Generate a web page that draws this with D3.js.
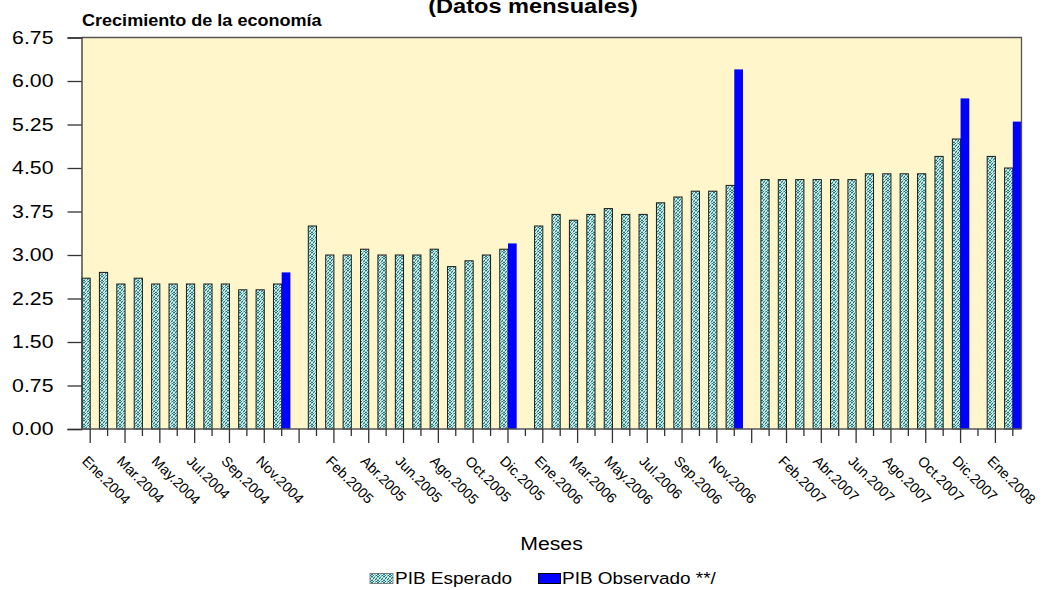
<!DOCTYPE html>
<html>
<head>
<meta charset="utf-8">
<script src="https://cdn.jsdelivr.net/npm/d3@7/dist/d3.min.js"></script>
<style>
  html, body { margin: 0; padding: 0; background: #fff; }
  svg { display: block; font-family: "Liberation Sans", Arial, sans-serif; }
</style>
</head>
<body>
<svg id="chart" width="1045" height="590"></svg>
<script>
// Monthly categories; blank entries are spacer slots between years
const categories = [
  "Ene.2004","Feb.2004","Mar.2004","Abr.2004","May.2004","Jun.2004","Jul.2004","Ago.2004","Sep.2004","Oct.2004","Nov.2004","Dic.2004",
  "",
  "Ene.2005","Feb.2005","Mar.2005","Abr.2005","May.2005","Jun.2005","Jul.2005","Ago.2005","Sep.2005","Oct.2005","Nov.2005","Dic.2005",
  "",
  "Ene.2006","Feb.2006","Mar.2006","Abr.2006","May.2006","Jun.2006","Jul.2006","Ago.2006","Sep.2006","Oct.2006","Nov.2006","Dic.2006",
  "",
  "Ene.2007","Feb.2007","Mar.2007","Abr.2007","May.2007","Jun.2007","Jul.2007","Ago.2007","Sep.2007","Oct.2007","Nov.2007","Dic.2007",
  "",
  "Ene.2008","Feb.2008"
];

// PIB Esperado (expected growth, %)
const esperado = [
  2.6, 2.7, 2.5, 2.6, 2.5, 2.5, 2.5, 2.5, 2.5, 2.4, 2.4, 2.5,
  null,
  3.5, 3.0, 3.0, 3.1, 3.0, 3.0, 3.0, 3.1, 2.8, 2.9, 3.0, 3.1,
  null,
  3.5, 3.7, 3.6, 3.7, 3.8, 3.7, 3.7, 3.9, 4.0, 4.1, 4.1, 4.2,
  null,
  4.3, 4.3, 4.3, 4.3, 4.3, 4.3, 4.4, 4.4, 4.4, 4.4, 4.7, 5.0,
  null,
  4.7, 4.5
];

// PIB Observado (observed growth, %), only where published
const observado = [
  null, null, null, null, null, null, null, null, null, null, null, 2.7,
  null,
  null, null, null, null, null, null, null, null, null, null, null, 3.2,
  null,
  null, null, null, null, null, null, null, null, null, null, null, 6.2,
  null,
  null, null, null, null, null, null, null, null, null, null, null, 5.7,
  null,
  null, 5.3
];

const yTicks = [0, 0.75, 1.5, 2.25, 3.0, 3.75, 4.5, 5.25, 6.0, 6.75];

const seriesNames = ["PIB Esperado", "PIB Observado **/"];

// ---- layout ----
const SX = 1.15;               // horizontal text stretch
const plot = { left: 81.5, right: 1021.5, top: 37.5, bottom: 429 };
const FONT = '"Liberation Sans", Arial, sans-serif';
const BLUE = "#0000ff";

const svg = d3.select("#chart");

// Mottled teal fill used by the expected-growth bars
const defs = svg.append("defs");
const tile = [
  "TWBLWT",
  "BLTWBL",
  "WTBBTW",
  "LBWTLB",
  "TWLBWT",
  "BTWLTB"
];
const tileColors = { T: "#0b7f7f", W: "#ffffff", L: "#7cc0c0", B: "#a9d8d8" };
const pat = defs.append("pattern")
  .attr("id", "dots")
  .attr("patternUnits", "userSpaceOnUse")
  .attr("width", 6).attr("height", 6);
tile.forEach((row, r) => {
  row.split("").forEach((k, c) => {
    pat.append("rect").attr("x", c).attr("y", r).attr("width", 1).attr("height", 1).attr("fill", tileColors[k]);
  });
});

const idx = d3.range(categories.length);
const x = d3.scaleBand().domain(idx).range([plot.left, plot.right]).padding(0);
const y = d3.scaleLinear().domain([0, 6.75]).range([plot.bottom, plot.top]);
const bw = x.bandwidth();

// Plot background
svg.append("rect")
  .attr("x", plot.left).attr("y", plot.top)
  .attr("width", plot.right - plot.left).attr("height", plot.bottom - plot.top)
  .attr("fill", "#fff6cc");

// Expected bars: left half of each slot
svg.append("g").selectAll("rect")
  .data(idx.filter(i => esperado[i] != null))
  .join("rect")
  .attr("x", i => x(i) + 0.5)
  .attr("y", i => y(esperado[i]))
  .attr("width", bw / 2 - 0.5)
  .attr("height", i => y(0) - y(esperado[i]))
  .attr("fill", "url(#dots)")
  .attr("stroke", "#1a1a1a")
  .attr("stroke-width", 1);

// Observed bars: right half of the slot
svg.append("g").selectAll("rect")
  .data(idx.filter(i => observado[i] != null))
  .join("rect")
  .attr("x", i => x(i) + bw / 2)
  .attr("y", i => y(observado[i]))
  .attr("width", bw / 2)
  .attr("height", i => y(0) - y(observado[i]))
  .attr("fill", BLUE);

// Frame: top and right edges
svg.append("path")
  .attr("d", `M${plot.left},${plot.top}H${plot.right}V${plot.bottom}`)
  .attr("fill", "none").attr("stroke", "#555").attr("stroke-width", 1.3);

// Y axis
const yAxis = svg.append("g")
  .attr("transform", `translate(${plot.left},0)`)
  .call(d3.axisLeft(y).tickValues(yTicks).tickFormat(d3.format(".2f")).tickSize(14).tickPadding(14));
yAxis.select(".domain").attr("stroke", "#333").attr("stroke-width", 1.3);
yAxis.selectAll(".tick line").attr("stroke", "#333").attr("stroke-width", 1.3);
yAxis.selectAll(".tick text")
  .attr("x", -28 / SX)
  .attr("transform", `scale(${SX},1)`)
  .attr("fill", "#000")
  .style("font-family", FONT)
  .style("font-size", "18.5px");

// X axis: long ticks on even slots (labelled), short ticks on odd slots
const xAxis = svg.append("g")
  .attr("transform", `translate(0,${plot.bottom})`)
  .call(d3.axisBottom(x).tickSize(14).tickFormat(i => categories[i]));
xAxis.select(".domain")
  .attr("d", `M${plot.left},0H${plot.right}`)
  .attr("stroke", "#555").attr("stroke-width", 1.3);
xAxis.selectAll(".tick line")
  .attr("y2", i => (i % 2 === 0 ? 14 : 7))
  .attr("stroke", "#333").attr("stroke-width", 1.3);
xAxis.selectAll(".tick text")
  .text(i => (i % 2 === 0 ? categories[i] : ""))
  .attr("x", 0).attr("y", 0).attr("dy", 0)
  .attr("text-anchor", "start")
  .attr("transform", "translate(-9,33) rotate(45)")
  .attr("fill", "#000")
  .style("font-family", FONT)
  .style("font-size", "14.3px");

// Text helper with the horizontal stretch
function label(px, py, txt, anchor, size, weight) {
  return svg.append("text")
    .attr("transform", `translate(${px},${py}) scale(${SX},1)`)
    .attr("text-anchor", anchor)
    .style("font-family", FONT)
    .style("font-size", size + "px")
    .style("font-weight", weight || "normal")
    .attr("fill", "#000")
    .text(txt);
}

// Titles
label(533, 12.5, "(Datos mensuales)", "middle", 20.5, "bold");
label(82, 26, "Crecimiento de la economía", "start", 15.7, "bold");

// Axis title
label((plot.left + plot.right) / 2, 550, "Meses", "middle", 18.5);

// Legend
const legend = svg.append("g");
legend.append("rect").attr("x", 370).attr("y", 573.5).attr("width", 23).attr("height", 10)
  .attr("fill", "url(#dots)").attr("stroke", "#666").attr("stroke-width", 0.8);
label(395, 584, seriesNames[0], "start", 16.5);
legend.append("rect").attr("x", 538.5).attr("y", 573.5).attr("width", 22).attr("height", 10)
  .attr("fill", BLUE).attr("stroke", "#000").attr("stroke-width", 1);
label(562, 584, seriesNames[1], "start", 16.5);
</script>
</body>
</html>
